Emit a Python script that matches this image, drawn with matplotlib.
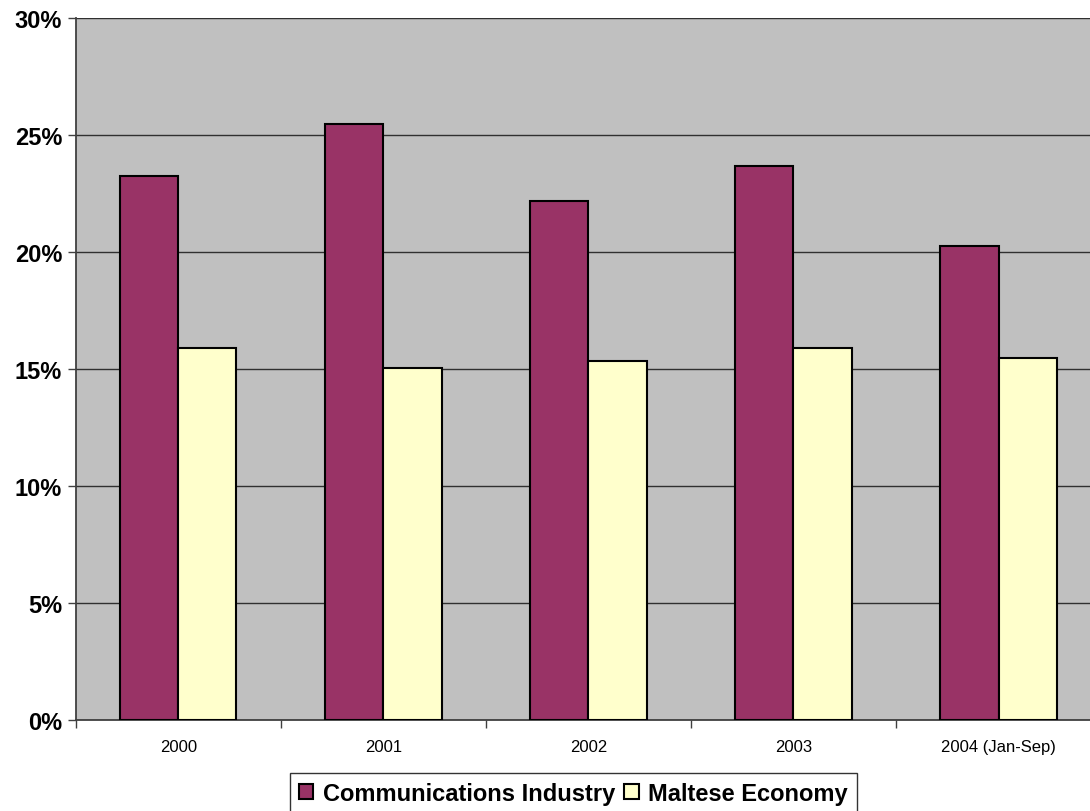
import matplotlib
matplotlib.use('Agg')
import matplotlib.pyplot as plt
import numpy as np
from matplotlib.ticker import FuncFormatter, MultipleLocator

plt.rcParams['font.family'] = ['Liberation Sans', 'DejaVu Sans']

years = ['2000', '2001', '2002', '2003', '2004 (Jan-Sep)']
comm_industry = [23.24, 25.46, 22.2, 23.67, 20.24]
maltese_economy = [15.88, 15.03, 15.36, 15.88, 15.45]

fig = plt.figure(figsize=(10.9, 8.12), dpi=100)
# plot area runs past the right edge of the canvas
ax = fig.add_axes([0.0697, 0.1121, 0.9404, 0.8645])
ax.set_facecolor('#c0c0c0')

x = np.arange(len(years))
w = 0.283
ax.bar(x - w / 2, comm_industry, w, color='#993366', edgecolor='black',
       linewidth=1.5, label='Communications Industry', zorder=3)
ax.bar(x + w / 2, maltese_economy, w, color='#ffffcc', edgecolor='black',
       linewidth=1.5, label='Maltese Economy', zorder=3)

ax.set_xlim(-0.5, len(years) - 0.5)
ax.set_ylim(0, 30)
ax.yaxis.set_major_locator(MultipleLocator(5))
ax.yaxis.set_major_formatter(FuncFormatter(lambda v, _: f'{v:.0f}%'))
ax.grid(axis='y', color='#303030', linewidth=1.0, zorder=1)

# category labels at centres, tick marks at category boundaries
ax.set_xticks(x)
ax.set_xticklabels(years, fontsize=12)
ax.tick_params(axis='x', which='major', length=0, pad=14)
ax.set_xticks(np.arange(len(years) + 1) - 0.5, minor=True)
ax.tick_params(axis='x', which='minor', length=6, color='#404040', width=1)
ax.tick_params(axis='y', length=6, color='#404040', width=1, labelsize=17, pad=4)
for lbl in ax.get_yticklabels():
    lbl.set_fontweight('bold')

for side in ['top', 'right']:
    ax.spines[side].set_visible(False)
for side in ['left', 'bottom']:
    ax.spines[side].set_color('#404040')
    ax.spines[side].set_linewidth(1.3)

leg = fig.legend(loc='upper center', bbox_to_anchor=(0.526, 0.0468), ncol=2,
                 frameon=True, fancybox=False, edgecolor='black',
                 prop={'weight': 'bold', 'size': 17},
                 handlelength=0.6, handleheight=0.6, handletextpad=0.4,
                 columnspacing=0.4, borderpad=0.38, borderaxespad=0)
leg.get_frame().set_linewidth(1.0)

fig.savefig('out.png', dpi=100)
